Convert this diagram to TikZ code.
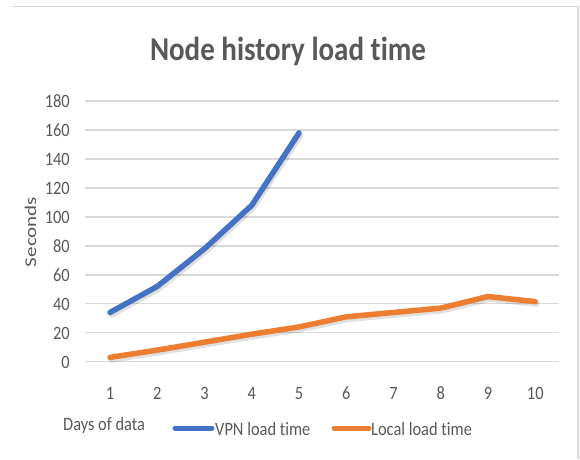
\documentclass[tikz,border=0pt]{standalone}
\usepackage{fontspec}
\setmainfont{Carlito}[Ligatures={NoCommon,NoRare,NoContextual}]
\definecolor{txt}{HTML}{595959}
\definecolor{gridc}{HTML}{D9D9D9}
\definecolor{vpn}{HTML}{4472C4}
\definecolor{loc}{HTML}{ED7D31}
\newcommand{\vstretch}[1]{\scalebox{1}[1.15]{#1}}
\begin{document}
\begin{tikzpicture}[x=1pt,y=-1pt,
  lbl/.style={text=txt,font=\fontsize{16.4}{18}\selectfont,inner sep=0pt},
  ttl/.style={text=txt,font=\fontsize{29}{32}\selectfont\bfseries,inner sep=0pt},
  gridline/.style={draw=gridc,line width=1.4pt},
  series/.style={line width=5.5pt,line cap=round,line join=round},
  shadowline/.style={line width=6pt,line cap=round,line join=round,draw=black,opacity=0.12},
  frameline/.style={draw=gridc,line width=1.8pt}]
\useasboundingbox (0,0) rectangle (580,459);
\fill[white] (0,0) rectangle (580,459);
% frame
\draw[frameline] (12,6.5) -- (578,6.5) -- (578,459);
% title
\node[ttl,anchor=base] (title) at (288,60.7) {\vstretch{Node history load time}};
% gridlines and y labels
\foreach \v [count=\k] in {0,20,...,180}{
  \pgfmathsetmacro{\gy}{361.7-1.448*\v}
  \draw[gridline] (85,\gy) -- (559,\gy);
  \node[lbl,anchor=base east] (ylab\k) at (70,\gy+6.3) {\vstretch{\v}};
}
% x labels
\foreach \i in {1,...,10}{
  \node[lbl,anchor=base] (xlab\i) at ({110+47.25*(\i-1)},399) {\vstretch{\i}};
}
\node[lbl,anchor=base,rotate=90] (ytitle) at (36,232) {\scalebox{1.28}[1]{Seconds}};
\node[lbl,anchor=base west] (xtitle) at (63,430.4) {\vstretch{Days of data}};
% data
\begin{scope}[shift={(62.75,361.7)},x=47.25pt,y=1.448pt]
  \begin{scope}[shift={(0.03,-1.6)}]
    \draw[shadowline] (1,34) -- (2,52) -- (3,78) -- (4,108) -- (5,158);
    \draw[shadowline] (1,3) -- (2,8) -- (3,13.5) -- (4,19) -- (5,24) -- (6,31) -- (7,34) -- (8,37) -- (9,45) -- (10,41.5);
  \end{scope}
  \draw[series,draw=vpn] (1,34) -- (2,52) -- (3,78) -- (4,108) -- (5,158);
  \draw[series,draw=loc] (1,3) -- (2,8) -- (3,13.5) -- (4,19) -- (5,24) -- (6,31) -- (7,34) -- (8,37) -- (9,45) -- (10,41.5);
\end{scope}
% legend
\coordinate (lv1) at (175,428);
\coordinate (lv2) at (212,428);
\coordinate (lo1) at (334,428);
\coordinate (lo2) at (369,428);
\draw[line width=5pt,line cap=round,draw=vpn] (lv1) -- (lv2);
\draw[line width=5pt,line cap=round,draw=loc] (lo1) -- (lo2);
\node[lbl,anchor=base west] (legv) at (215,435.5) {\vstretch{VPN load time}};
\node[lbl,anchor=base west] (lego) at (371,435.5) {\vstretch{Local load time}};
\end{tikzpicture}
\end{document}
